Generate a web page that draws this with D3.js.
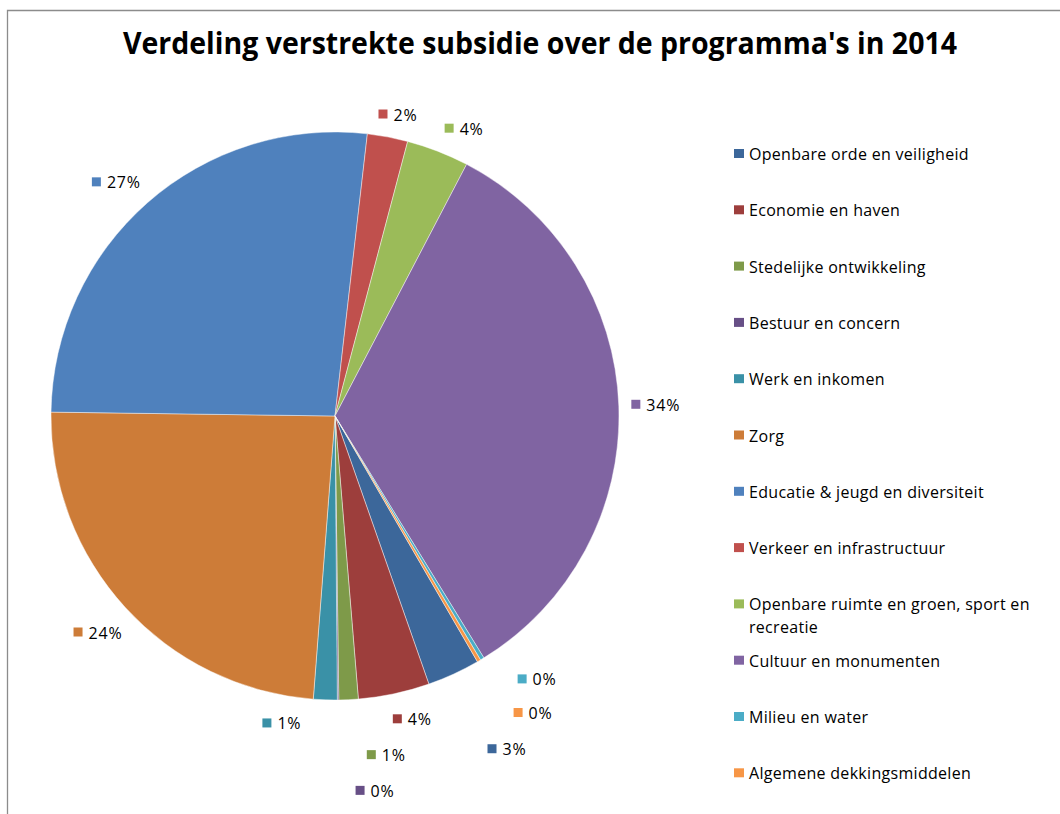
<!DOCTYPE html>
<html>
<head>
<meta charset="utf-8">
<script src="https://d3js.org/d3.v7.min.js"></script>
<style>
  body { margin: 0; background: #ffffff; }
  text { font-family: "Open Sans", "DejaVu Sans", sans-serif; fill: #000000; }
</style>
</head>
<body>
<script>

// Data: share of subsidy per programme (percent)
var programmes = ["Openbare orde en veiligheid", "Economie en haven", "Stedelijke ontwikkeling",
                  "Bestuur en concern", "Werk en inkomen", "Zorg", "Educatie & jeugd en diversiteit",
                  "Verkeer en infrastructuur", "Openbare ruimte en groen, sport en recreatie",
                  "Cultuur en monumenten", "Milieu en water", "Algemene dekkingsmiddelen"];
var shares = [3.0, 4.05, 1.1, 0.08, 1.35, 24.0, 26.6, 2.3, 3.55, 33.55, 0.22, 0.2];
var colours = ["#3c679a", "#9d3e3c", "#7e9a49", "#674f86", "#3a91a7", "#cd7c38",
               "#4f81bd", "#c0504d", "#9bbb59", "#8064a2", "#4bacc6", "#f79646"];
var title = "Verdeling verstrekte subsidie over de programma's in 2014";

// legend lines (the long name wraps over two lines)
var legendLines = [["Openbare orde en veiligheid"], ["Economie en haven"], ["Stedelijke ontwikkeling"],
                   ["Bestuur en concern"], ["Werk en inkomen"], ["Zorg"], ["Educatie & jeugd en diversiteit"],
                   ["Verkeer en infrastructuur"], ["Openbare ruimte en groen, sport en", "recreatie"],
                   ["Cultuur en monumenten"], ["Milieu en water"], ["Algemene dekkingsmiddelen"]];

var width = 1060, height = 814;
var cx = 335, cy = 416, radius = 284;
var startDeg = 149.9;

// label spots for the crowded slices [angle in degrees, distance], others sit at their mid angle
var labelSpots = [[152.7, 375], [165.7, 313], [171.4, 343], [173.9, 377], [189.8, 312], null,
                  [316.9, 320], [11.8, 308], [24.2, 315], null, [142.5, 332], [146.3, 357]];

var svg = d3.select("body")
            .append("svg")
            .attr("width", width)
            .attr("height", height);

// chart border (top and left edge visible)
svg.append("path")
   .attr("d", "M7.5," + height + "V10.5H" + width)
   .attr("fill", "none")
   .attr("stroke", "#8c8c8c")
   .attr("stroke-width", 1.3);

// title
svg.append("text")
   .attr("x", 123)
   .attr("y", 54)
   .attr("textLength", 834)
   .attr("lengthAdjust", "spacingAndGlyphs")
   .style("font-size", "30px")
   .style("font-weight", "bold")
   .text(title);

var total = d3.sum(shares);
var fmt = d3.format(".0%");

var pie = d3.pie()
            .sort(null)
            .value(function(d) { return d; })
            .startAngle(startDeg * Math.PI / 180)
            .endAngle((startDeg + 360) * Math.PI / 180);

var arcs = pie(shares);

var arc = d3.arc()
            .innerRadius(0)
            .outerRadius(radius);

var g = svg.append("g")
           .attr("transform", "translate(" + cx + "," + cy + ")");

// slices
g.selectAll("path.slice")
 .data(arcs)
 .enter().append("path")
 .attr("class", "slice")
 .attr("d", arc)
 .attr("fill", function(d, i) { return colours[i]; })
 .attr("stroke", "rgba(255,255,255,0.55)")
 .attr("stroke-width", 0.8);

// data labels with a small key square
var labels = g.selectAll("g.label")
              .data(arcs)
              .enter().append("g")
              .attr("class", "label");

labels.each(function(d, i) {
  var spot = labelSpots[i];
  var p;
  if (spot) {
    p = d3.pointRadial(spot[0] * Math.PI / 180, spot[1]);
  } else {
    p = d3.pointRadial((d.startAngle + d.endAngle) / 2, 321);
  }
  var lab = d3.select(this);
  var t = lab.append("text")
             .attr("y", p[1] + 6)
             .style("font-size", "16px")
             .style("letter-spacing", "0.8px")
             .text(fmt(shares[i] / total));
  var w = t.node().getComputedTextLength();
  var left = p[0] - (w + 15) / 2;
  t.attr("x", left + 15);
  lab.append("rect")
     .attr("x", left)
     .attr("y", p[1] - 5)
     .attr("width", 9)
     .attr("height", 9)
     .attr("fill", colours[i]);
});

// legend
var legend = svg.selectAll("g.legend")
                .data(programmes)
                .enter().append("g")
                .attr("class", "legend")
                .attr("transform", function(d, i) { return "translate(734," + (154 + i * 56.3) + ")"; });

legend.append("rect")
      .attr("x", 0)
      .attr("y", -5)
      .attr("width", 10)
      .attr("height", 9)
      .attr("fill", function(d, i) { return colours[i]; });

legend.each(function(d, i) {
  var lines = legendLines[i];
  for (var j = 0; j < lines.length; j++) {
    d3.select(this).append("text")
      .attr("x", 15)
      .attr("y", 6 + j * 23)
      .style("font-size", "16px")
      .style("letter-spacing", "0.3px")
      .text(lines[j]);
  }
});

</script>
</body>
</html>
